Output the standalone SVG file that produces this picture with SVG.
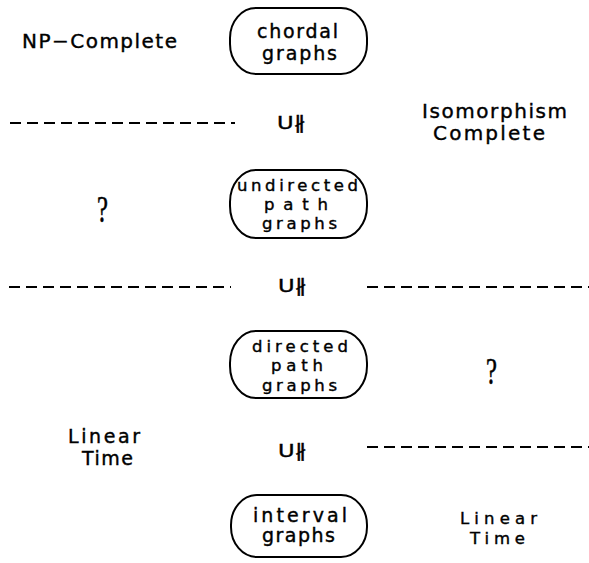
<svg xmlns="http://www.w3.org/2000/svg" width="589" height="563" viewBox="0 0 589 563">
<style>
  .box { fill: none; stroke: #000; stroke-width: 2; }
  .t { font-family: "DejaVu Sans", "Liberation Sans", sans-serif; fill: #000; stroke: #000; stroke-width: 0.4; font-size: 19px; }
  .t3 { font-family: "DejaVu Sans", "Liberation Sans", sans-serif; fill: #000; stroke: #000; stroke-width: 0.4; font-size: 16.5px; }
  .lbl { font-family: "DejaVu Sans", "Liberation Sans", sans-serif; fill: #000; stroke: #000; stroke-width: 0.4; font-size: 20px; }
  .sym { font-family: "DejaVu Sans", sans-serif; fill: #000; stroke: #000; stroke-width: 0.4; font-size: 18px; }
  .q { font-family: "Liberation Serif", serif; fill: #000; stroke: #000; stroke-width: 0.6; font-size: 38px; }
  .dash { stroke: #000; stroke-width: 2; stroke-dasharray: 11 6; fill: none; }
</style>
<rect width="589" height="563" fill="#fff"/>

<g id="connectors">
  <line class="dash" x1="10" y1="123" x2="235" y2="123"/>
  <line class="dash" x1="9" y1="287" x2="231" y2="287"/>
  <line class="dash" x1="367" y1="287" x2="589" y2="287"/>
  <line class="dash" x1="367" y1="447" x2="589" y2="447"/>
  <text class="sym" x="277" y="129" textLength="28" lengthAdjust="spacingAndGlyphs">U∦</text>
  <text class="sym" x="278" y="292" textLength="28" lengthAdjust="spacingAndGlyphs">U∦</text>
  <text class="sym" x="278" y="457" textLength="28" lengthAdjust="spacingAndGlyphs">U∦</text>
</g>

<g id="chordal">
  <rect class="box" x="230" y="8" width="137" height="66" rx="26" ry="30"/>
  <text class="t" x="257" y="38" textLength="81" lengthAdjust="spacing">chordal</text>
  <text class="t" x="262" y="60" textLength="75" lengthAdjust="spacing">graphs</text>
</g>

<g id="undirected">
  <rect class="box" x="230" y="170" width="137" height="68" rx="26" ry="32"/>
  <text class="t3" x="237" y="191" textLength="121" lengthAdjust="spacing">undirected</text>
  <text class="t3" x="264" y="210" textLength="64" lengthAdjust="spacing">path</text>
  <text class="t3" x="262" y="229" textLength="75" lengthAdjust="spacing">graphs</text>
</g>

<g id="directed">
  <rect class="box" x="230" y="331" width="137" height="67" rx="26" ry="32"/>
  <text class="t3" x="252" y="352" textLength="96" lengthAdjust="spacing">directed</text>
  <text class="t3" x="271" y="371" textLength="52" lengthAdjust="spacing">path</text>
  <text class="t3" x="262" y="391" textLength="75" lengthAdjust="spacing">graphs</text>
</g>

<g id="interval">
  <rect class="box" x="231" y="495" width="136" height="62" rx="26" ry="30"/>
  <text class="t" x="253" y="522" textLength="94" lengthAdjust="spacing">interval</text>
  <text class="t" x="262" y="542" textLength="73" lengthAdjust="spacing">graphs</text>
</g>

<g id="labels">
  <text class="lbl" x="22" y="48" textLength="155" lengthAdjust="spacing">NP−Complete</text>
  <text class="lbl" x="422" y="118" textLength="145" lengthAdjust="spacing">Isomorphism</text>
  <text class="lbl" x="433" y="140" textLength="112" lengthAdjust="spacing">Complete</text>
  <text class="q" x="0" y="0" transform="translate(97,222) scale(0.65,1)">?</text>
  <text class="q" x="0" y="0" transform="translate(486,384) scale(0.65,1)">?</text>
  <text class="t" x="68" y="443" textLength="72" lengthAdjust="spacing">Linear</text>
  <text class="t" x="82" y="465" textLength="51" lengthAdjust="spacing">Time</text>
  <text class="t3" x="460" y="524" textLength="77" lengthAdjust="spacing">Linear</text>
  <text class="t3" x="470" y="544" textLength="55" lengthAdjust="spacing">Time</text>
</g>
</svg>
